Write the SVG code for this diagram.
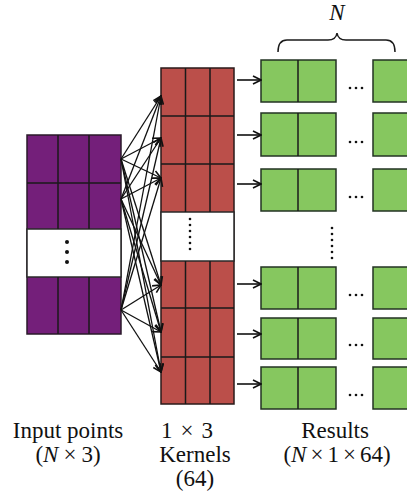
<svg xmlns="http://www.w3.org/2000/svg" width="407" height="502" viewBox="0 0 407 502">
<style>
.pur{fill:#741f7a;stroke:#2a1a2a;stroke-width:1.5}
.red{fill:#bb4f4a;stroke:#2a1a1a;stroke-width:1.5}
.grn{fill:#86c75f;stroke:#233323;stroke-width:1.5}
.wht{fill:#ffffff;stroke:#2a2a2a;stroke-width:1.5}
.ln{stroke:#1a1a1a;stroke-width:1.5;fill:none}
.fan{stroke:#111;stroke-width:1.3;fill:none;marker-end:url(#ah)}
.arr{stroke:#111;stroke-width:1.6;fill:none;marker-end:url(#ah)}
.lbl{font-size:23px;fill:#111;text-anchor:middle}
.it{font-style:italic}
</style>
<defs>
<marker id="ah" viewBox="0 0 10 10" refX="9" refY="5" markerWidth="10" markerHeight="10" markerUnits="userSpaceOnUse" orient="auto">
<path d="M1,1 L9,5 L1,9" fill="none" stroke="#111" stroke-width="1.6"/>
</marker>
</defs>

<g id="input-points">
<rect class="pur" x="27" y="135" width="94" height="199"/>
<rect class="wht" x="27" y="229" width="94" height="48"/>
<path class="ln" d="M58,135V229M89,135V229M58,277V334M89,277V334M27,183H121"/>
<circle cx="67" cy="242" r="2" fill="#111"/>
<circle cx="67" cy="252" r="2" fill="#111"/>
<circle cx="67" cy="262" r="2" fill="#111"/>
</g>

<g id="kernels">
<rect class="red" x="161" y="68" width="73" height="336"/>
<rect class="wht" x="161" y="212" width="73" height="49"/>
<path class="ln" d="M185.5,68V212M210,68V212M185.5,261V404M210,261V404M161,116H234M161,164H234M161,308H234M161,357H234"/>
<g fill="#111">
<circle cx="190" cy="219" r="1.3"/><circle cx="190" cy="225" r="1.3"/><circle cx="190" cy="231" r="1.3"/>
<circle cx="190" cy="237" r="1.3"/><circle cx="190" cy="243" r="1.3"/><circle cx="190" cy="249" r="1.3"/>
</g>
</g>

<g id="results">
<g id="row1"><rect class="grn" x="261" y="60" width="75" height="42"/><path class="ln" d="M298,60V102"/><rect class="grn" x="373" y="60" width="40" height="42"/></g>
<g id="row2"><rect class="grn" x="261" y="113" width="75" height="43"/><path class="ln" d="M298,113V156"/><rect class="grn" x="373" y="113" width="40" height="43"/></g>
<g id="row3"><rect class="grn" x="261" y="169" width="75" height="42"/><path class="ln" d="M298,169V211"/><rect class="grn" x="373" y="169" width="40" height="42"/></g>
<g id="row4"><rect class="grn" x="261" y="267" width="75" height="42"/><path class="ln" d="M298,267V309"/><rect class="grn" x="373" y="267" width="40" height="42"/></g>
<g id="row5"><rect class="grn" x="261" y="318" width="75" height="41"/><path class="ln" d="M298,318V359"/><rect class="grn" x="373" y="318" width="40" height="41"/></g>
<g id="row6"><rect class="grn" x="261" y="367" width="75" height="42"/><path class="ln" d="M298,367V409"/><rect class="grn" x="373" y="367" width="40" height="42"/></g>
<g fill="#111">
<circle cx="350" cy="88" r="1.3"/><circle cx="356" cy="88" r="1.3"/><circle cx="362" cy="88" r="1.3"/>
<circle cx="350" cy="142" r="1.3"/><circle cx="356" cy="142" r="1.3"/><circle cx="362" cy="142" r="1.3"/>
<circle cx="350" cy="197" r="1.3"/><circle cx="356" cy="197" r="1.3"/><circle cx="362" cy="197" r="1.3"/>
<circle cx="350" cy="295" r="1.3"/><circle cx="356" cy="295" r="1.3"/><circle cx="362" cy="295" r="1.3"/>
<circle cx="350" cy="345" r="1.3"/><circle cx="356" cy="345" r="1.3"/><circle cx="362" cy="345" r="1.3"/>
<circle cx="350" cy="395" r="1.3"/><circle cx="356" cy="395" r="1.3"/><circle cx="362" cy="395" r="1.3"/>
<circle cx="332" cy="228" r="1.3"/><circle cx="332" cy="234" r="1.3"/><circle cx="332" cy="240" r="1.3"/>
<circle cx="332" cy="246" r="1.3"/><circle cx="332" cy="252" r="1.3"/><circle cx="332" cy="258" r="1.3"/>
</g>
<path class="ln" d="M278,52 Q278,40 287,40 L328,40 Q336,40 337,33 Q338,40 346,40 L386,40 Q395,40 395,52" stroke-width="1.4"/>
<text class="lbl it" x="337" y="20" font-family="'Liberation Serif', 'Times New Roman', serif">N</text>
</g>

<g id="connectors">
<g id="fan">
<path class="fan" d="M121,159L161,96"/><path class="fan" d="M121,159L161,138"/><path class="fan" d="M121,159L161,178"/>
<path class="fan" d="M121,159L161,285"/><path class="fan" d="M121,159L161,332"/><path class="fan" d="M121,159L161,372"/>
<path class="fan" d="M121,199L161,96"/><path class="fan" d="M121,199L161,138"/><path class="fan" d="M121,199L161,178"/>
<path class="fan" d="M121,199L161,285"/><path class="fan" d="M121,199L161,332"/><path class="fan" d="M121,199L161,372"/>
<path class="fan" d="M121,310L161,96"/><path class="fan" d="M121,310L161,138"/><path class="fan" d="M121,310L161,178"/>
<path class="fan" d="M121,310L161,285"/><path class="fan" d="M121,310L161,332"/><path class="fan" d="M121,310L161,372"/>
</g>
<path class="arr" d="M237,80H261"/>
<path class="arr" d="M237,135H261"/>
<path class="arr" d="M237,184H261"/>
<path class="arr" d="M237,284H261"/>
<path class="arr" d="M237,334H261"/>
<path class="arr" d="M237,384H261"/>
</g>

<g id="labels" font-family="'Liberation Serif', 'Times New Roman', serif">
<text class="lbl" x="68" y="438">Input points</text>
<text class="lbl" x="68" y="462">(<tspan class="it">N</tspan><tspan dx="5">×</tspan><tspan dx="5">3)</tspan></text>
<text class="lbl" x="187" y="438">1<tspan dx="8">×</tspan><tspan dx="8">3</tspan></text>
<text class="lbl" x="195" y="462">Kernels</text>
<text class="lbl" x="195" y="486">(64)</text>
<text class="lbl" x="335" y="438">Results</text>
<text class="lbl" x="337" y="462">(<tspan class="it">N</tspan><tspan dx="4">×</tspan><tspan dx="4">1</tspan><tspan dx="4">×</tspan><tspan dx="4">64)</tspan></text>
</g>
</svg>
